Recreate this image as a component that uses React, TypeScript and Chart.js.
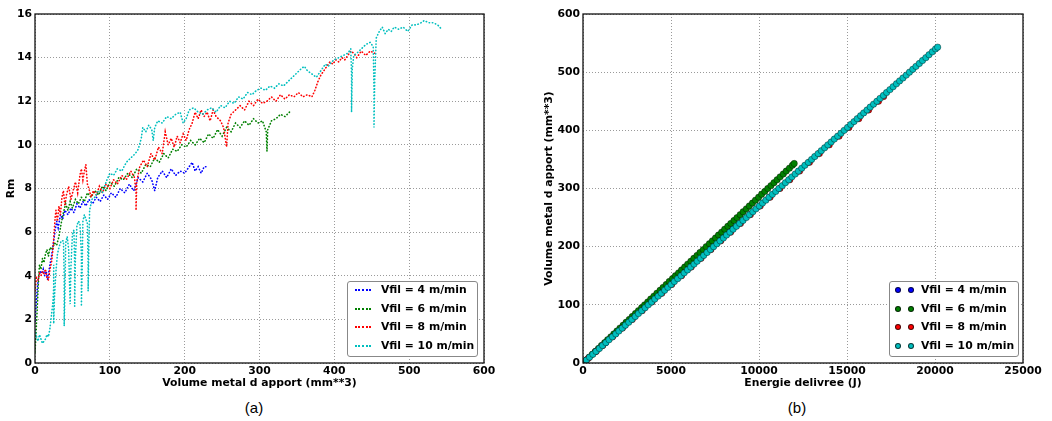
import React, { useEffect, useRef } from "react";
import { Chart, registerables } from "chart.js";

Chart.register(...registerables);

// ---------- labels, colours ----------
const seriesLabels = ["Vfil = 4 m/min", "Vfil = 6 m/min", "Vfil = 8 m/min", "Vfil = 10 m/min"];
const seriesColors = ["#0000ff", "#008000", "#ff0000", "#00bfbf"];

// ---------- tick values ----------
const volumeTicksA = [0, 100, 200, 300, 400, 500, 600];
const rmTicks = [0, 2, 4, 6, 8, 10, 12, 14, 16];
const energyTicks = [0, 5000, 10000, 15000, 20000, 25000];
const volumeTicksB = [0, 100, 200, 300, 400, 500, 600];

// ---------- (a) Rm vs volume  [volume mm**3, Rm] ----------
const vfil4Rm: [number, number][] = [
  [0, 1.9], [1, 2.4], [2, 2.9], [3, 3.4], [4, 3.7], [5, 4.0], [7, 4.2], [9, 4.1], [11, 4.3], [13, 4.0],
  [15, 4.2], [17, 3.8], [19, 4.3], [21, 4.7], [23, 5.1], [25, 5.6], [27, 6.1], [29, 6.5], [31, 6.2], [34, 6.8],
  [37, 6.6], [40, 7.0], [44, 6.8], [48, 7.1], [52, 6.9], [56, 7.3], [60, 7.1], [64, 7.4], [68, 7.2], [72, 7.5],
  [77, 7.3], [82, 7.6], [87, 7.4], [92, 7.7], [97, 7.5], [102, 7.8], [108, 7.6], [114, 8.0], [120, 7.8], [126, 8.2],
  [132, 7.9], [138, 8.5], [144, 8.3], [150, 8.7], [156, 8.4], [160, 7.9], [164, 8.5], [170, 8.8], [176, 8.5], [182, 8.9],
  [188, 8.6], [194, 8.8], [200, 8.7], [206, 9.0], [210, 9.2], [214, 8.8], [218, 9.0], [222, 8.7], [226, 9.0], [230, 9.0],
];

const vfil6Rm: [number, number][] = [
  [0, 0.5], [1, 1.1], [2, 1.8], [3, 2.5], [4, 3.3], [5, 4.0], [6, 4.5], [8, 4.3], [10, 4.8], [12, 4.6],
  [14, 5.0], [16, 5.2], [18, 4.9], [20, 5.3], [23, 5.2], [26, 5.5], [29, 5.4], [32, 5.8], [35, 6.4], [38, 6.9],
  [41, 7.3], [44, 7.0], [47, 7.4], [50, 7.1], [54, 7.5], [58, 7.3], [62, 7.6], [66, 7.4], [70, 7.8], [75, 7.6],
  [80, 7.9], [85, 7.7], [90, 8.1], [95, 7.9], [100, 8.3], [106, 8.1], [112, 8.5], [118, 8.4], [124, 8.7], [130, 8.5],
  [136, 8.9], [142, 8.7], [148, 9.1], [154, 9.0], [160, 9.4], [166, 9.2], [172, 9.6], [178, 9.4], [184, 9.8], [190, 9.7],
  [196, 10.0], [202, 9.9], [208, 10.2], [214, 10.0], [220, 10.3], [226, 10.1], [232, 10.5], [238, 10.3], [244, 10.7], [250, 10.4],
  [256, 10.8], [262, 10.6], [268, 11.0], [274, 10.8], [280, 11.1], [286, 10.9], [292, 11.2], [298, 11.0], [304, 11.1], [309, 10.6],
  [310, 9.7], [311, 10.7], [316, 11.1], [322, 11.2], [328, 11.4], [334, 11.3], [340, 11.5],
];

const vfil8Rm: [number, number][] = [
  [0, 3.3], [1, 3.6], [2, 3.9], [4, 3.8], [6, 4.1], [8, 4.0], [10, 4.2], [12, 4.1], [14, 4.3], [16, 3.9],
  [18, 3.8], [20, 4.3], [22, 4.6], [24, 5.2], [25, 5.7], [26, 6.2], [27, 6.7], [28, 7.0], [30, 6.5], [32, 7.2],
  [34, 6.8], [36, 7.6], [38, 7.9], [40, 7.2], [42, 7.7], [45, 8.1], [48, 7.5], [51, 7.9], [54, 8.3], [57, 7.8],
  [60, 8.6], [62, 8.9], [64, 8.4], [66, 8.8], [68, 9.1], [70, 8.2], [72, 8.0], [75, 7.6], [78, 7.9], [82, 7.7],
  [86, 8.1], [90, 7.8], [95, 8.2], [100, 8.0], [105, 8.4], [110, 8.2], [116, 8.6], [122, 8.4], [128, 8.8], [133, 8.5],
  [135, 7.8], [135, 7.0], [136, 8.3], [140, 9.0], [145, 9.3], [150, 9.0], [155, 9.6], [160, 9.3], [165, 9.9], [170, 9.6],
  [174, 10.6], [178, 10.0], [182, 10.3], [186, 9.9], [190, 10.4], [194, 10.1], [198, 10.5], [202, 10.2], [206, 10.7], [210, 11.0],
  [214, 11.5], [218, 11.2], [222, 11.6], [226, 11.3], [230, 11.5], [234, 11.1], [238, 11.6], [242, 11.3], [248, 11.1], [252, 10.8],
  [256, 9.9], [258, 11.0], [262, 11.4], [268, 11.6], [274, 11.8], [280, 11.6], [286, 12.0], [292, 11.8], [298, 12.1], [304, 11.9],
  [310, 12.0], [316, 12.2], [322, 12.0], [328, 12.3], [334, 12.1], [340, 12.3], [346, 12.2], [352, 12.4], [358, 12.2], [364, 12.3],
  [370, 12.2], [374, 12.5], [378, 12.9], [382, 13.2], [386, 13.4], [390, 13.6], [394, 13.8], [398, 13.7], [402, 13.9], [406, 13.8],
  [410, 14.0], [414, 13.9], [418, 14.1], [422, 14.3], [426, 14.2], [430, 14.0], [436, 14.3], [442, 14.1], [448, 14.3], [454, 14.2],
  [458, 14.2],
];

const vfil10Rm: [number, number][] = [
  [0, 1.5], [2, 1.2], [4, 1.0], [6, 1.3], [8, 1.1], [10, 0.9], [12, 1.0], [14, 1.1], [16, 1.3], [18, 1.2],
  [20, 1.6], [22, 2.2], [24, 2.8], [25, 3.5], [25, 4.5], [25, 3.0], [25, 1.8], [26, 3.0], [28, 4.2], [30, 5.0],
  [32, 5.3], [35, 5.6], [38, 5.6], [39, 4.0], [39, 2.5], [39, 1.7], [40, 3.2], [41, 5.5], [43, 5.8], [45, 5.2],
  [46, 3.8], [47, 2.7], [48, 4.4], [50, 5.9], [52, 6.1], [53, 4.5], [53, 2.6], [54, 4.8], [56, 6.3], [58, 6.5],
  [60, 6.4], [62, 5.0], [62, 2.6], [63, 4.2], [64, 6.5], [66, 6.8], [68, 6.6], [70, 6.4], [71, 4.5], [71, 3.3],
  [72, 5.5], [73, 7.0], [76, 7.5], [80, 7.6], [85, 7.9], [90, 7.8], [95, 8.3], [100, 8.7], [105, 8.6], [110, 8.9],
  [116, 8.8], [122, 9.2], [128, 9.4], [134, 9.6], [138, 9.8], [142, 10.3], [144, 10.8], [148, 10.6], [152, 10.9], [156, 10.7],
  [158, 10.2], [160, 10.8], [164, 11.1], [170, 11.0], [176, 11.3], [182, 11.2], [188, 11.4], [194, 11.5], [198, 11.0], [202, 11.2],
  [206, 11.6], [212, 11.7], [218, 11.5], [224, 11.4], [230, 11.6], [236, 11.7], [242, 11.5], [248, 11.8], [254, 11.7], [260, 12.0],
  [266, 11.9], [272, 12.2], [278, 12.1], [284, 12.4], [290, 12.3], [296, 12.5], [302, 12.6], [308, 12.5], [314, 12.7], [320, 12.6],
  [326, 12.8], [332, 12.7], [338, 12.9], [344, 13.1], [350, 13.3], [356, 13.5], [360, 13.6], [364, 13.4], [368, 13.3], [372, 13.2],
  [376, 13.1], [380, 13.3], [384, 13.5], [388, 13.7], [392, 13.6], [396, 13.8], [400, 13.9], [406, 14.0], [412, 14.1], [418, 14.2],
  [422, 14.4], [423, 13.2], [423, 11.5], [424, 13.5], [426, 14.1], [430, 14.2], [436, 14.4], [442, 14.6], [448, 14.7], [452, 14.5],
  [453, 12.5], [453, 10.8], [454, 13.0], [456, 14.9], [460, 15.2], [464, 15.4], [468, 15.1], [472, 15.3], [476, 15.2], [480, 15.4],
  [486, 15.3], [492, 15.4], [498, 15.2], [504, 15.5], [510, 15.5], [516, 15.6], [520, 15.7], [526, 15.6], [532, 15.6], [538, 15.5],
  [541, 15.4], [543, 15.3],
];

// ---------- (b) volume vs energy  [energy J, volume mm**3] ----------
const vfil4Vol: [number, number][] = [
  [180, 5], [730, 20], [1280, 35], [1830, 50], [2370, 65], [2920, 80], [3470, 95], [4020, 110],
  [4560, 125], [5110, 140], [5660, 155], [6210, 170], [6750, 185], [7300, 200], [7850, 215], [8400, 230],
];

const vfil6Vol: [number, number][] = [
  [180, 5], [350, 10], [530, 15], [700, 20], [880, 25], [1050, 30], [1230, 35], [1400, 40], [1580, 45], [1750, 50],
  [1930, 55], [2100, 60], [2280, 65], [2450, 70], [2630, 75], [2800, 80], [2980, 85], [3150, 90], [3330, 95], [3500, 100],
  [3680, 105], [3850, 110], [4030, 115], [4200, 120], [4380, 125], [4550, 130], [4730, 135], [4900, 140], [5080, 145], [5250, 150],
  [5430, 155], [5600, 160], [5780, 165], [5950, 170], [6130, 175], [6300, 180], [6480, 185], [6650, 190], [6830, 195], [7000, 200],
  [7180, 205], [7350, 210], [7530, 215], [7700, 220], [7880, 225], [8050, 230], [8230, 235], [8400, 240], [8580, 245], [8750, 250],
  [8930, 255], [9100, 260], [9280, 265], [9450, 270], [9630, 275], [9800, 280], [9980, 285], [10150, 290], [10330, 295], [10500, 300],
  [10680, 305], [10850, 310], [11030, 315], [11200, 320], [11380, 325], [11550, 330], [11730, 335], [11900, 340], [12000, 343],
];

const vfil8Vol: [number, number][] = [
  [300, 8], [750, 20], [1120, 30], [1680, 45], [2240, 60], [2800, 75], [3360, 90], [3920, 105], [4480, 120], [5040, 135],
  [5600, 150], [6150, 165], [6710, 180], [7270, 195], [7830, 210], [8390, 225], [8950, 240], [9510, 255], [10070, 270], [10630, 285],
  [11190, 300], [11750, 315], [12310, 330], [12870, 345], [13430, 360], [13990, 375], [14550, 390], [15110, 405], [15670, 420], [16230, 435],
  [16790, 450], [17080, 458],
];

const vfil10Vol: [number, number][] = [
  [190, 5], [370, 10], [560, 15], [740, 20], [930, 25], [1110, 30], [1300, 35], [1480, 40], [1670, 45], [1860, 50],
  [2040, 55], [2230, 60], [2410, 65], [2600, 70], [2780, 75], [2970, 80], [3150, 85], [3340, 90], [3530, 95], [3710, 100],
  [3900, 105], [4080, 110], [4270, 115], [4450, 120], [4640, 125], [4820, 130], [5010, 135], [5190, 140], [5380, 145], [5570, 150],
  [5750, 155], [5940, 160], [6120, 165], [6310, 170], [6490, 175], [6680, 180], [6860, 185], [7050, 190], [7240, 195], [7420, 200],
  [7610, 205], [7790, 210], [7980, 215], [8160, 220], [8350, 225], [8530, 230], [8720, 235], [8900, 240], [9090, 245], [9280, 250],
  [9460, 255], [9650, 260], [9830, 265], [10020, 270], [10200, 275], [10390, 280], [10570, 285], [10760, 290], [10950, 295], [11130, 300],
  [11320, 305], [11500, 310], [11690, 315], [11870, 320], [12060, 325], [12240, 330], [12430, 335], [12610, 340], [12800, 345], [12990, 350],
  [13170, 355], [13360, 360], [13540, 365], [13730, 370], [13910, 375], [14100, 380], [14280, 385], [14470, 390], [14660, 395], [14840, 400],
  [15030, 405], [15210, 410], [15400, 415], [15580, 420], [15770, 425], [15950, 430], [16140, 435], [16320, 440], [16510, 445], [16700, 450],
  [16880, 455], [17070, 460], [17250, 465], [17440, 470], [17620, 475], [17810, 480], [17990, 485], [18180, 490], [18370, 495], [18550, 500],
  [18740, 505], [18920, 510], [19110, 515], [19290, 520], [19480, 525], [19660, 530], [19850, 535], [20030, 540], [20150, 543],
];

const rmSeries = [vfil4Rm, vfil6Rm, vfil8Rm, vfil10Rm];
const volSeries = [vfil4Vol, vfil6Vol, vfil8Vol, vfil10Vol];

// ---------- styling ----------
const FONT_FAMILY = "'DejaVu Sans', 'Liberation Sans', sans-serif";
const boldFont = { family: FONT_FAMILY, size: 10.8, weight: "bold" as const, lineHeight: 1.2 };
const CANVAS_W = 526;
const CANVAS_H = 393;

const framePlugin = {
  id: "frame",
  afterDatasetsDraw(chart: any) {
    const { ctx, chartArea } = chart;
    ctx.save();
    ctx.strokeStyle = "#111";
    ctx.lineWidth = 1.3;
    ctx.strokeRect(chartArea.left, chartArea.top, chartArea.right - chartArea.left, chartArea.bottom - chartArea.top);
    ctx.restore();
  },
};

function makeAxis(o: {
  horizontal: boolean;
  ticks: number[];
  title: string;
  size: number;
  titlePad: any;
  tickPad: number;
}) {
  return {
    type: "linear",
    position: o.horizontal ? "bottom" : "left",
    min: o.ticks[0],
    max: o.ticks[o.ticks.length - 1],
    afterBuildTicks: (s: any) => {
      s.ticks = o.ticks.map((v) => ({ value: v }));
    },
    afterFit: (s: any) => {
      if (o.horizontal) s.height = o.size;
      else s.width = o.size;
    },
    ticks: {
      font: boldFont,
      color: "#000",
      padding: o.tickPad,
      maxRotation: 0,
      autoSkip: false,
      callback: (v: any) => String(v),
    },
    grid: { color: "#9a9a9a", lineWidth: 1, drawTicks: false },
    border: { display: false, dash: [1, 2] },
    title: { display: true, text: o.title, font: boldFont, color: "#000", padding: o.titlePad },
  };
}

function ChartA() {
  const ref = useRef<HTMLCanvasElement>(null);
  useEffect(() => {
    const chart = new Chart(ref.current as HTMLCanvasElement, {
      type: "scatter",
      data: {
        datasets: rmSeries.map((s, i) => ({
          label: seriesLabels[i],
          data: s.map(([x, y]) => ({ x, y })),
          showLine: true,
          borderColor: seriesColors[i],
          backgroundColor: seriesColors[i],
          borderWidth: 1.6,
          borderDash: [0.4, 2.8],
          borderCapStyle: "round",
          pointRadius: 0,
          tension: 0,
          order: 4 - i,
        })),
      },
      options: {
        responsive: false,
        animation: false,
        layout: { padding: { left: 0, right: CANVAS_W - 484, top: 14, bottom: 0 } },
        plugins: { legend: { display: false }, tooltip: { enabled: false } },
        scales: {
          x: makeAxis({ horizontal: true, ticks: volumeTicksA, title: "Volume metal d apport (mm**3)", size: 30, titlePad: { top: 0, bottom: 3 }, tickPad: 2 }),
          y: makeAxis({ horizontal: false, ticks: rmTicks, title: "Rm", size: 35, titlePad: { top: 5, bottom: 0 }, tickPad: 3 }),
        },
      } as any,
      plugins: [framePlugin],
    });
    return () => chart.destroy();
  }, []);
  return <canvas ref={ref} width={CANVAS_W} height={CANVAS_H} style={{ position: "absolute", left: 0, top: 0, width: CANVAS_W, height: CANVAS_H }} />;
}

function ChartB() {
  const ref = useRef<HTMLCanvasElement>(null);
  useEffect(() => {
    const chart = new Chart(ref.current as HTMLCanvasElement, {
      type: "scatter",
      data: {
        datasets: volSeries.map((s, i) => ({
          label: seriesLabels[i],
          data: s.map(([x, y]) => ({ x, y })),
          showLine: true,
          borderColor: seriesColors[i],
          borderWidth: 3,
          pointRadius: 3.2,
          pointBackgroundColor: seriesColors[i],
          pointBorderColor: "rgba(0,0,0,0.65)",
          pointBorderWidth: 0.6,
          tension: 0,
          order: 4 - i,
        })),
      },
      options: {
        responsive: false,
        animation: false,
        layout: { padding: { left: 0, right: 1052 - 1023, top: 14, bottom: 0 } },
        plugins: { legend: { display: false }, tooltip: { enabled: false } },
        scales: {
          x: makeAxis({ horizontal: true, ticks: energyTicks, title: "Energie delivree (J)", size: 30, titlePad: { top: 0, bottom: 3 }, tickPad: 2 }),
          y: makeAxis({ horizontal: false, ticks: volumeTicksB, title: "Volume metal d apport (mm**3)", size: 57, titlePad: { top: 17, bottom: 0 }, tickPad: 3 }),
        },
      } as any,
      plugins: [framePlugin],
    });
    return () => chart.destroy();
  }, []);
  return <canvas ref={ref} width={CANVAS_W} height={CANVAS_H} style={{ position: "absolute", left: CANVAS_W, top: 0, width: CANVAS_W, height: CANVAS_H }} />;
}

const legendText: React.CSSProperties = {
  position: "absolute",
  left: 33,
  top: 0,
  lineHeight: "18px",
  fontFamily: FONT_FAMILY,
  fontWeight: "bold",
  fontSize: 10.8,
  color: "#000",
  whiteSpace: "nowrap",
};

function Legend({ left, width, kind }: { left: number; width: number; kind: "line" | "dot" }) {
  return (
    <div
      style={{
        position: "absolute",
        left,
        top: 281,
        width,
        height: 76,
        boxSizing: "border-box",
        border: "1px solid #888",
        borderRadius: 3,
        background: "#fff",
      }}
    >
      {seriesLabels.map((lab, i) => (
        <div key={lab} style={{ position: "absolute", left: 0, top: -1 + i * 18.7, height: 18, width: "100%" }}>
          {kind === "line" ? (
            <div style={{ position: "absolute", left: 7, top: 8, width: 16, borderTop: `2px dotted ${seriesColors[i]}` }} />
          ) : (
            [8, 21].map((cx) => (
              <div
                key={cx}
                style={{
                  position: "absolute",
                  left: cx - 3,
                  top: 6,
                  width: 6,
                  height: 6,
                  borderRadius: "50%",
                  boxSizing: "border-box",
                  background: seriesColors[i],
                  border: "0.6px solid rgba(0,0,0,0.7)",
                }}
              />
            ))
          )}
          <span style={{ ...legendText, left: kind === "line" ? 33 : 31 }}>{lab}</span>
        </div>
      ))}
    </div>
  );
}

const captionStyle: React.CSSProperties = {
  position: "absolute",
  top: 400,
  width: 100,
  textAlign: "center",
  fontFamily: "'Liberation Sans', Arial, sans-serif",
  fontSize: 15,
  lineHeight: "16px",
  color: "#000",
};

export default function App() {
  return (
    <div style={{ position: "relative", width: 1052, height: 421, background: "#fff", overflow: "hidden" }}>
      <style>{"body{margin:0;background:#fff}"}</style>
      <ChartA />
      <ChartB />
      <Legend left={347} width={131} kind="line" />
      <Legend left={889} width={130} kind="dot" />
      <div style={{ ...captionStyle, left: 204 }}>(a)</div>
      <div style={{ ...captionStyle, left: 747 }}>(b)</div>
    </div>
  );
}
